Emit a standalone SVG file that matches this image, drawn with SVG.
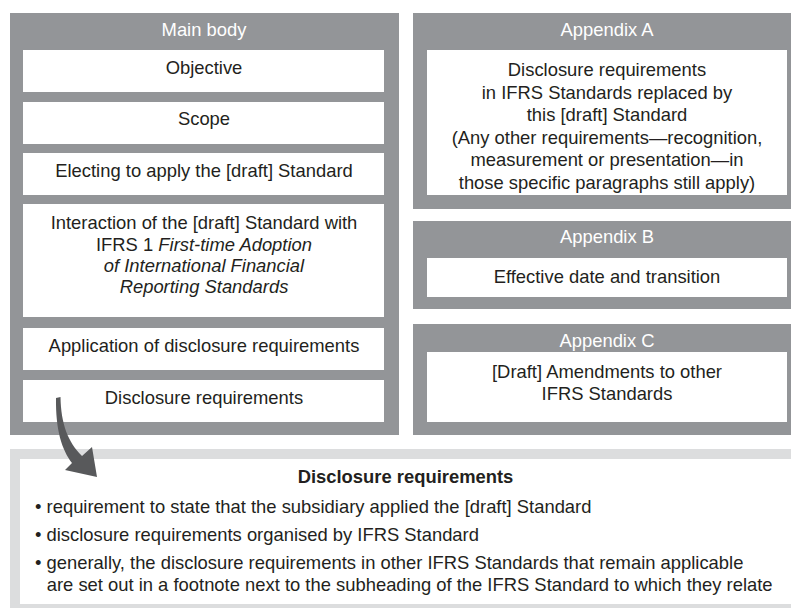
<svg xmlns="http://www.w3.org/2000/svg" width="791" height="608" viewBox="0 0 791 608">
<style>
.panel{fill:#939598}
.box{fill:#ffffff}
.t{font-family:"Liberation Sans",Arial,Helvetica,sans-serif;font-size:18.4px;fill:#231f20;text-anchor:middle}
.h{font-family:"Liberation Sans",Arial,Helvetica,sans-serif;font-size:18.4px;fill:#ffffff;text-anchor:middle}
.b{font-family:"Liberation Sans",Arial,Helvetica,sans-serif;font-size:18.4px;fill:#231f20}
.bold{font-weight:bold}
.i{font-style:italic}
</style>
<rect width="791" height="608" fill="#ffffff"/>
<g id="main-body">
<rect class="panel" x="10" y="13" width="389" height="422"/>
<text class="h" x="204" y="35.5">Main body</text>
<g id="objective"><rect class="box" x="23" y="50" width="361" height="42"/><text class="t" x="204" y="74">Objective</text></g>
<g id="scope"><rect class="box" x="23" y="102" width="361" height="42"/><text class="t" x="204" y="125">Scope</text></g>
<g id="electing"><rect class="box" x="23" y="153" width="361" height="42"/><text class="t" x="204" y="176.5">Electing to apply the [draft] Standard</text></g>
<g id="interaction"><rect class="box" x="23" y="204" width="361" height="113"/>
<text class="t" x="204" y="229.3">Interaction of the [draft] Standard with</text>
<text class="t" x="204" y="250.6">IFRS 1 <tspan class="i">First-time Adoption</tspan></text>
<text class="t i" x="204" y="271.9">of International Financial</text>
<text class="t i" x="204" y="293">Reporting Standards</text></g>
<g id="application"><rect class="box" x="23" y="328" width="361" height="42"/><text class="t" x="204" y="352">Application of disclosure requirements</text></g>
<g id="disclosure"><rect class="box" x="23" y="380" width="361" height="42"/><text class="t" x="204" y="404">Disclosure requirements</text></g>
</g>
<g id="appendix-a">
<rect class="panel" x="413" y="13" width="388" height="196"/>
<text class="h" x="607" y="35.5">Appendix A</text>
<rect class="box" x="427" y="50" width="360" height="145"/>
<text class="t" x="607" y="76">Disclosure requirements</text>
<text class="t" x="607" y="98.6">in IFRS Standards replaced by</text>
<text class="t" x="607" y="121.2">this [draft] Standard</text>
<text class="t" x="607" y="143.8">(Any other requirements—recognition,</text>
<text class="t" x="607" y="166.4">measurement or presentation—in</text>
<text class="t" x="607" y="189">those specific paragraphs still apply)</text>
</g>
<g id="appendix-b">
<rect class="panel" x="413" y="221" width="388" height="88"/>
<text class="h" x="607" y="243.3">Appendix B</text>
<rect class="box" x="427" y="258" width="360" height="39"/>
<text class="t" x="607" y="283.3">Effective date and transition</text>
</g>
<g id="appendix-c">
<rect class="panel" x="413" y="324" width="388" height="111"/>
<text class="h" x="607" y="346.7">Appendix C</text>
<rect class="box" x="427" y="352" width="360" height="70"/>
<text class="t" x="607" y="378">[Draft] Amendments to other</text>
<text class="t" x="607" y="400">IFRS Standards</text>
</g>
<g id="disclosure-detail">
<rect x="10" y="449" width="791" height="159" fill="#dcddde"/>
<rect class="box" x="20" y="459" width="781" height="145"/>
<text class="t bold" x="405.5" y="483">Disclosure requirements</text>
<text class="b" x="35" y="512.7">• requirement to state that the subsidiary applied the [draft] Standard</text>
<text class="b" x="35" y="541">• disclosure requirements organised by IFRS Standard</text>
<text class="b" x="35" y="569.3">• generally, the disclosure requirements in other IFRS Standards that remain applicable</text>
<text class="b" x="46.7" y="591">are set out in a footnote next to the subheading of the IFRS Standard to which they relate</text>
</g>
<g id="connectors">
<path d="M56,398 L60.5,397 C61,424 68,442 82,456 L92,447 L97,477 L65,470 L72,463 C62,450 55.5,430 56,398 Z" fill="#58595b"/>
</g>
</svg>
